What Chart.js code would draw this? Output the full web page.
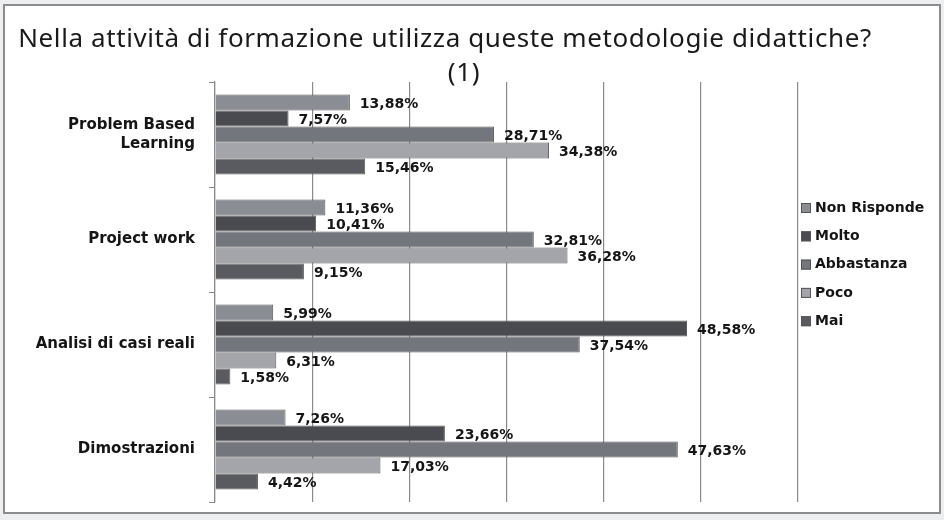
<!DOCTYPE html>
<html>
<head>
<meta charset="utf-8">
<script src="https://cdn.jsdelivr.net/npm/chart.js@4.4.1/dist/chart.umd.min.js"></script>
<style>
    body { margin: 0; background: #eceef0; }
    #frame {
        position: absolute; left: 3px; top: 4px;
        width: 934px; height: 506px;
        border: 2px solid #8c8c8c; background: #fff;
    }
    canvas { display: block; }
</style>
</head>
<body>
<div id="frame"><canvas id="chart" width="934" height="506"></canvas></div>
<script>
// --- DATI ---
const titleLines = ['Nella attività di formazione utilizza queste metodologie didattiche?', '(1)'];
const categories = [['Problem Based', 'Learning'], 'Project work', 'Analisi di casi reali', 'Dimostrazioni'];
const seriesNames = ['Non Risponde', 'Molto', 'Abbastanza', 'Poco', 'Mai'];
const nonRisponde = [13.88, 11.36, 5.99, 7.26];
const molto = [7.57, 10.41, 48.58, 23.66];
const abbastanza = [28.71, 32.81, 37.54, 47.63];
const poco = [34.38, 36.28, 6.31, 17.03];
const mai = [15.46, 9.15, 1.58, 4.42];
const xTicks = [0, 10, 20, 30, 40, 50, 60];

const seriesValues = [nonRisponde, molto, abbastanza, poco, mai];
const seriesColors = ['#8b8d94', '#4a4b50', '#74767e', '#a3a5aa', '#595b61'];

// titolo su due righe (centrato come nell'originale)
const titleBlock = {
    id: 'titleBlock',
    afterDraw(chart) {
        const ctx = chart.ctx;
        ctx.save();
        ctx.font = '26px "Noto Sans"';
        ctx.letterSpacing = '0.6px';
        ctx.fillStyle = '#1a1a1a';
        ctx.textAlign = 'center';
        ctx.textBaseline = 'alphabetic';
        ctx.fillText(titleLines[0], 440, 41);
        ctx.fillText(titleLines[1], 459, 75);
        ctx.restore();
    }
};

// etichette valori a destra delle barre
const valueLabels = {
    id: 'valueLabels',
    afterDatasetsDraw(chart) {
        const ctx = chart.ctx;
        ctx.save();
        ctx.font = 'bold 14px "DejaVu Sans"';
        ctx.fillStyle = '#151515';
        ctx.textBaseline = 'middle';
        chart.data.datasets.forEach((ds, i) => {
            chart.getDatasetMeta(i).data.forEach((bar, j) => {
                const txt = ds.data[j].toFixed(2).replace('.', ',') + '%';
                ctx.fillText(txt, bar.x + 10, bar.y + 2);
            });
        });
        ctx.restore();
    }
};

// legenda verticale a destra
const sideLegend = {
    id: 'sideLegend',
    afterDraw(chart) {
        const ctx = chart.ctx;
        const x = chart.chartArea.right + 3;
        ctx.save();
        ctx.font = 'bold 14px "DejaVu Sans"';
        ctx.textBaseline = 'middle';
        chart.data.datasets.forEach((ds, i) => {
            const y = 202 + i * 28.3;
            ctx.fillStyle = ds.backgroundColor;
            ctx.fillRect(x, y - 5, 10, 10);
            ctx.strokeStyle = '#555';
            ctx.lineWidth = 1;
            ctx.strokeRect(x + 0.5, y - 4.5, 9, 9);
            ctx.fillStyle = '#151515';
            ctx.fillText(ds.label, x + 14, y);
        });
        ctx.restore();
    }
};

new Chart(document.getElementById('chart'), {
    type: 'bar',
    data: {
        labels: categories,
        datasets: seriesNames.map((name, i) => ({
            label: name,
            data: seriesValues[i],
            backgroundColor: seriesColors[i],
            borderColor: '#5a5a5a',
            borderWidth: 1,
            categoryPercentage: 0.76,
            barPercentage: 1
        }))
    },
    options: {
        indexAxis: 'y',
        responsive: false,
        animation: false,
        layout: { padding: { left: 0, right: 141, top: 76, bottom: 10 } },
        plugins: {
            legend: { display: false },
            tooltip: { enabled: false },
            title: { display: false }
        },
        scales: {
            x: {
                min: 0,
                max: 60,
                afterBuildTicks: (scale) => { scale.ticks = xTicks.map(v => ({ value: v })); },
                afterFit: (scale) => { scale.height = 0; },
                ticks: { display: false },
                grid: { color: '#8a8a8a', lineWidth: 1.2, drawTicks: false },
                border: { display: false }
            },
            y: {
                afterFit: (scale) => {
                    scale.width = 210;
                    scale.paddingTop = 0;
                    scale.paddingBottom = 0;
                },
                ticks: {
                    color: '#151515',
                    padding: 14,
                    font: { family: 'DejaVu Sans', size: 15, weight: 'bold', lineHeight: 1.3 }
                },
                grid: { drawOnChartArea: false, drawTicks: true, tickLength: 6, color: '#8a8a8a' },
                border: { display: true, color: '#8a8a8a', width: 1.2 }
            }
        }
    },
    plugins: [valueLabels, sideLegend, titleBlock]
});
</script>
</body>
</html>
